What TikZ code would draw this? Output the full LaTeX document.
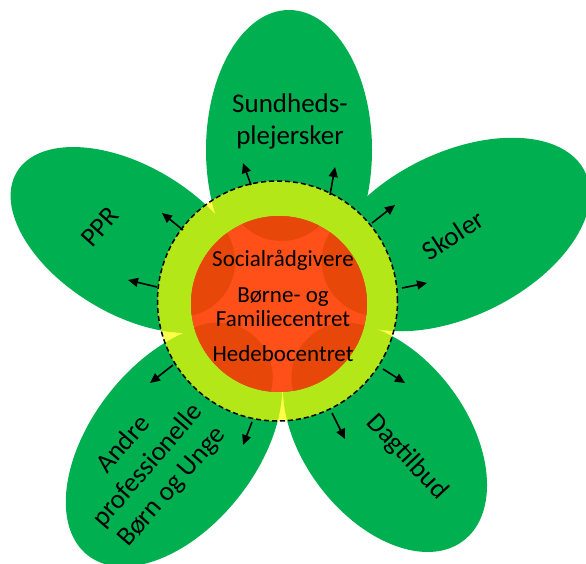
\documentclass[tikz,border=0pt]{standalone}
\usepackage{fontspec}
\setmainfont{Carlito}
\usetikzlibrary{arrows.meta}
\definecolor{petalgreen}{RGB}{0,176,80}
\definecolor{ringyellow}{RGB}{255,255,0}
\definecolor{lightred}{RGB}{255,80,25}
\definecolor{darkred}{RGB}{231,72,10}
\tikzset{
  petal/.style={fill=petalgreen},
  blob/.style={fill=darkred},
  arr/.style={-{Triangle[length=10pt,width=9pt]}, line width=1.6pt, black},
  ptext/.style={font=\fontsize{27}{32}\selectfont, align=center, inner sep=0pt},
  ctext/.style={font=\fontsize{23}{24}\selectfont, align=center, inner sep=0pt},
}
\begin{document}
\begin{tikzpicture}[x=1pt,y=-1pt]
\useasboundingbox (0,0) rectangle (586,563);
% petals
\fill[petal, rotate around={90:(289,150)}] (289,150) ellipse [x radius=140pt, y radius=83pt];
\fill[petal, rotate around={26:(456.5,234.5)}] (456.5,234.5) ellipse [x radius=143pt, y radius=82pt];
\fill[petal, rotate around={-53:(385,437)}] (385,437) ellipse [x radius=130pt, y radius=82pt];
\fill[petal, rotate around={52:(174,445)}] (174,445) ellipse [x radius=140pt, y radius=83pt];
\fill[petal, rotate around={-31:(130,240)}] (130,240) ellipse [x radius=132pt, y radius=74pt];
% ring and core
\coordinate (C) at (277.5,301);
\coordinate (R) at (279,304);
\fill[ringyellow, fill opacity=0.7, even odd rule] (C) circle [radius=120pt] (R) circle [radius=88pt];
\fill[lightred] (R) circle [radius=88pt];
\begin{scope}
  \clip (R) circle [radius=88pt];
  \fill[blob] (281.5,186) circle [radius=55pt];
  \fill[blob] (376.7,260.9) circle [radius=55pt];
  \fill[blob] (346.4,377.5) circle [radius=55pt];
  \fill[blob] (217.8,377.4) circle [radius=55pt];
  \fill[blob] (180.1,261.7) circle [radius=55pt];
\end{scope}
\draw[black, line width=1.5pt, dash pattern=on 5pt off 3pt] (C) circle [radius=120pt];
% centre texts
\node[ctext, anchor=base] (soc) at (283,266) {Socialrådgivere};
\node[ctext] (bfc) at (283,307) {Børne- og\\Familiecentret};
\node[ctext, anchor=base] (hed) at (283,361) {Hedebocentret};
% petal texts
\node[ptext] (sund) at (290,121) {Sundheds-\\plejersker};
\node[ptext, rotate=33] (skol) at (453,235) {Skoler};
\node[ptext, rotate=-47] (dag) at (407,457) {Dagtilbud};
\node[ptext, rotate=49] (andre) at (148,466) {Andre\\professionelle\\Børn og Unge};
\node[ptext, rotate=48] (ppr) at (100,227) {PPR};
% arrows
\coordinate (t1) at (251,185); \coordinate (h1) at (243,163);
\coordinate (t2) at (330,195); \coordinate (h2) at (335,167);
\coordinate (t3) at (372,223); \coordinate (h3) at (395,205);
\coordinate (t4) at (402,288); \coordinate (h4) at (427,283);
\coordinate (t5) at (383,369); \coordinate (h5) at (405,383);
\coordinate (t6) at (332,413); \coordinate (h6) at (345,439);
\coordinate (t7) at (252,422); \coordinate (h7) at (243,445);
\coordinate (t8) at (173,365); \coordinate (h8) at (150,383);
\coordinate (t9) at (157,287); \coordinate (h9) at (128,280);
\coordinate (t10) at (183,230); \coordinate (h10) at (162,213);
\foreach \i in {1,...,10} {\draw[arr] (t\i) -- (h\i);}
\end{tikzpicture}
\end{document}
